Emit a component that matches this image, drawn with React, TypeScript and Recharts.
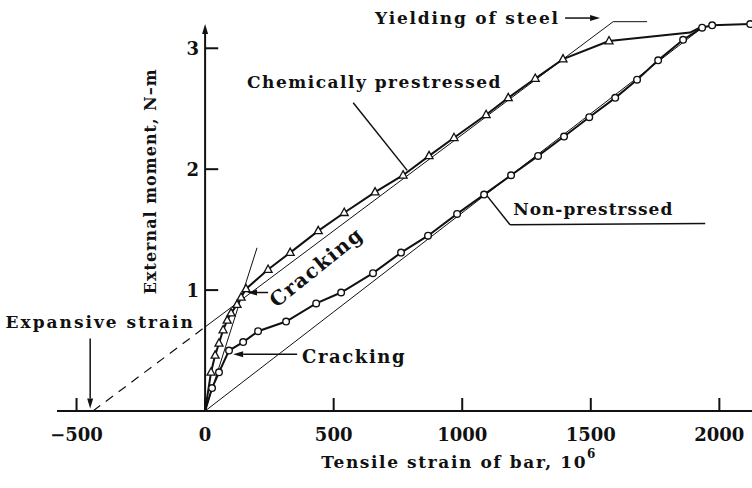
import React from "react";
import { LineChart, Line, XAxis, YAxis, ReferenceLine, ReferenceDot } from "recharts";

// tensile strain of bar (10^-6) vs external moment (N-m)
const xTicks = [-500, 0, 500, 1000, 1500, 2000];
const yTicks = [1, 2, 3];

const chemStrain = [0, 23, 39, 54, 70, 86, 101, 124, 140, 159, 245, 331, 440, 541, 661, 770, 871, 968, 1093, 1179, 1284, 1392, 1571];
const chemMoment = [0, 0.32, 0.46, 0.56, 0.67, 0.75, 0.81, 0.88, 0.94, 1.01, 1.17, 1.31, 1.49, 1.64, 1.81, 1.95, 2.11, 2.26, 2.45, 2.59, 2.75, 2.91, 3.06];
// after yielding, no markers
const chemTailStrain = [1571, 1886, 1933];
const chemTailMoment = [3.06, 3.13, 3.18];

const npStrain = [0, 27, 54, 93, 148, 206, 315, 432, 529, 653, 762, 867, 980, 1085, 1190, 1295, 1396, 1494, 1595, 1680, 1762, 1859, 1933, 1972, 2120];
const npMoment = [0, 0.19, 0.32, 0.5, 0.57, 0.66, 0.74, 0.89, 0.98, 1.14, 1.31, 1.45, 1.63, 1.79, 1.95, 2.11, 2.27, 2.43, 2.59, 2.74, 2.9, 3.07, 3.17, 3.19, 3.2];

// thin theoretical lines
const expStrain = [-436, 0];
const expMoment = [0, 0.695];
const chemTheoryStrain = [0, 1587, 1719];
const chemTheoryMoment = [0.695, 3.22, 3.22];
const npTheoryStrain = [0, 1933];
const npTheoryMoment = [0, 3.17];
const tangentStrain = [0, 202];
const tangentMoment = [0, 1.35];

const zip = (xs: number[], ys: number[]) => xs.map((x, i) => ({ x, y: ys[i] }));

const INK = "#111";
const FONT = "'DejaVu Serif', serif";

const Triangle = (p: any) => {
  const { cx, cy, index } = p;
  if (index === 0) return <g key={`t${index}`} />;
  return (
    <polygon
      key={`t${index}`}
      points={`${cx},${cy - 4.5} ${cx - 4},${cy + 2.8} ${cx + 4},${cy + 2.8}`}
      fill="#fff"
      stroke={INK}
      strokeWidth={1.3}
    />
  );
};

const Circle = (p: any) => {
  const { cx, cy, index } = p;
  if (index === 0) return <g key={`c${index}`} />;
  return <circle key={`c${index}`} cx={cx} cy={cy} r={3.3} fill="#fff" stroke={INK} strokeWidth={1.4} />;
};

const Arrow = (p: any) => {
  const { x1, y1, x2, y2, strokeWidth } = p;
  const a = Math.atan2(y2 - y1, x2 - x1);
  const len = 10;
  const w = 3;
  const bx = x2 - len * Math.cos(a);
  const by = y2 - len * Math.sin(a);
  const px = -Math.sin(a) * w;
  const py = Math.cos(a) * w;
  return (
    <g>
      <line x1={x1} y1={y1} x2={bx} y2={by} stroke={INK} strokeWidth={strokeWidth || 1.5} />
      <polygon points={`${x2},${y2} ${bx + px},${by + py} ${bx - px},${by - py}`} fill={INK} />
    </g>
  );
};

const XTick = (p: any) => {
  const { x, y, payload } = p;
  const v = payload.value;
  return (
    <g>
      <line x1={x} y1={y} x2={x} y2={y - 13} stroke={INK} strokeWidth={2} />
      <text x={x} y={y + 23} textAnchor="middle" dominantBaseline="central" fontFamily={FONT} fontWeight="bold" fontSize={18} fill={INK}>
        {v < 0 ? `−${-v}` : v}
      </text>
    </g>
  );
};

type Note = { x: number; y: number; text: string; anchor: string; size: number; rotate?: number; spacing?: number };

const notes: Note[] = [
  { x: 661, y: 3.25, text: "Yielding of steel", anchor: "start", size: 17, spacing: 1.8 },
  { x: 163, y: 2.72, text: "Chemically prestressed", anchor: "start", size: 17, spacing: 1.5 },
  { x: 432, y: 1.19, text: "Cracking", anchor: "middle", size: 20, rotate: -39, spacing: 1.5 },
  { x: 377, y: 0.45, text: "Cracking", anchor: "start", size: 18, spacing: 1.6 },
  { x: 1198, y: 1.67, text: "Non-prestrssed", anchor: "start", size: 17, spacing: 1 },
  { x: -408, y: 0.74, text: "Expansive strain", anchor: "middle", size: 17, spacing: 2 },
  { x: -214, y: 1.9, text: "External moment, N–m", anchor: "middle", size: 16, rotate: -90, spacing: 1 },
];

// leader lines and arrows: [from, to]
const arrows = [
  [{ x: 1400, y: 3.25 }, { x: 1536, y: 3.25 }],
  [{ x: 245, y: 0.98 }, { x: 163, y: 0.98 }],
  [{ x: 358, y: 0.47 }, { x: 109, y: 0.47 }],
  [{ x: -447, y: 0.6 }, { x: -447, y: 0.02 }],
];
const leaders = [
  [{ x: 576, y: 2.55 }, { x: 786, y: 1.99 }],
  [{ x: 1089, y: 1.8 }, { x: 1186, y: 1.54 }],
  [{ x: 1186, y: 1.54 }, { x: 1945, y: 1.55 }],
];

const NoteText = ({ cx, cy, note }: any) => (
  <text
    x={cx}
    y={cy}
    textAnchor={note.anchor}
    dominantBaseline="central"
    transform={note.rotate ? `rotate(${note.rotate} ${cx} ${cy})` : undefined}
    fontFamily={FONT}
    fontWeight="bold"
    fontSize={note.size}
    letterSpacing={note.spacing}
    fill={INK}
  >
    {note.text}
  </text>
);

export default function App() {
  return (
    <div style={{ position: "absolute", left: 0, top: 0, width: 752, height: 488, background: "#fff" }}>
      <LineChart width={752} height={488} margin={{ top: 12, right: 0, bottom: 0, left: 57 }}>
        <XAxis
          type="number"
          dataKey="x"
          domain={[-576, 2127]}
          ticks={xTicks}
          allowDataOverflow
          height={77}
          tickLine={false}
          tickSize={0}
          tickMargin={0}
          axisLine={{ stroke: INK, strokeWidth: 2 }}
          tick={<XTick />}
        />
        <YAxis type="number" dataKey="y" domain={[0, 3.3]} hide allowDataOverflow />

        {/* thin lines */}
        <Line data={zip(expStrain, expMoment)} dataKey="y" stroke={INK} strokeWidth={1.2} strokeDasharray="9 7" dot={false} isAnimationActive={false} />
        <Line data={zip(chemTheoryStrain, chemTheoryMoment)} dataKey="y" stroke={INK} strokeWidth={1} dot={false} isAnimationActive={false} />
        <Line data={zip(npTheoryStrain, npTheoryMoment)} dataKey="y" stroke={INK} strokeWidth={1} dot={false} isAnimationActive={false} />
        <Line data={zip(tangentStrain, tangentMoment)} dataKey="y" stroke={INK} strokeWidth={1} dot={false} isAnimationActive={false} />

        {/* y axis with arrow */}
        <ReferenceLine segment={[{ x: 0, y: 0 }, { x: 0, y: 3.2 }]} stroke={INK} strokeWidth={2} shape={<Arrow />} />
        {yTicks.map((v) => (
          <ReferenceLine key={`yt${v}`} segment={[{ x: 0, y: v }, { x: 51, y: v }]} stroke={INK} strokeWidth={2} />
        ))}
        {yTicks.map((v) => (
          <ReferenceDot
            key={`yl${v}`}
            x={0}
            y={v}
            r={0}
            shape={(p: any) => (
              <text x={p.cx - 6} y={p.cy} textAnchor="end" dominantBaseline="central" fontFamily={FONT} fontWeight="bold" fontSize={18} fill={INK}>
                {v}
              </text>
            )}
          />
        ))}

        {/* measured curves */}
        <Line data={zip(chemTailStrain, chemTailMoment)} dataKey="y" stroke={INK} strokeWidth={2} dot={false} isAnimationActive={false} />
        <Line data={zip(npStrain, npMoment)} dataKey="y" stroke={INK} strokeWidth={2} dot={<Circle />} isAnimationActive={false} />
        <Line data={zip(chemStrain, chemMoment)} dataKey="y" stroke={INK} strokeWidth={2} dot={<Triangle />} isAnimationActive={false} />

        {/* annotations */}
        {leaders.map((s, i) => (
          <ReferenceLine key={`ld${i}`} segment={s} stroke={INK} strokeWidth={1.5} ifOverflow="visible" />
        ))}
        {arrows.map((s, i) => (
          <ReferenceLine key={`ar${i}`} segment={s} stroke={INK} strokeWidth={1.5} ifOverflow="visible" shape={<Arrow />} />
        ))}
        {notes.map((n, i) => (
          <ReferenceDot key={`nt${i}`} x={n.x} y={n.y} r={0} ifOverflow="visible" shape={(p: any) => <NoteText {...p} note={n} />} />
        ))}
        <ReferenceDot
          x={988}
          y={-0.42}
          r={0}
          ifOverflow="visible"
          shape={(p: any) => (
            <text x={p.cx} y={p.cy} textAnchor="middle" dominantBaseline="central" fontFamily={FONT} fontWeight="bold" fontSize={17} letterSpacing={1.6} fill={INK}>
              Tensile strain of bar, 10
              <tspan dy={-8} fontSize={12}>6</tspan>
            </text>
          )}
        />
      </LineChart>
    </div>
  );
}
